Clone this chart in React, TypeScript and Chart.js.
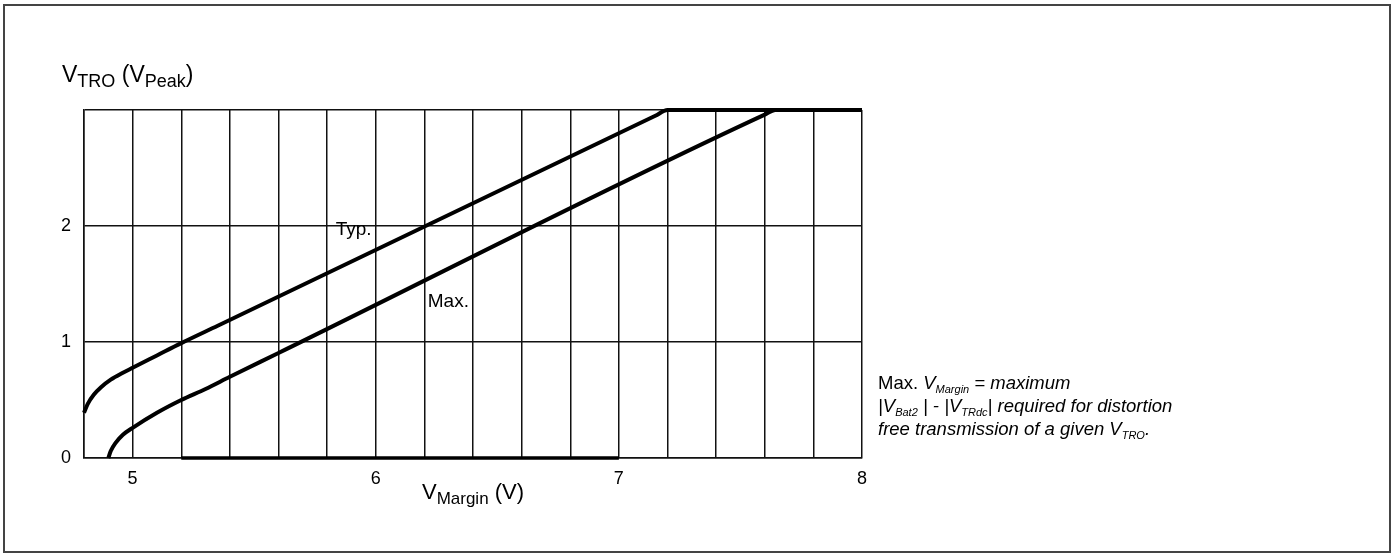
import React, { useEffect, useRef } from "react";
import { Chart, registerables } from "chart.js";

Chart.register(...registerables);

// ---- data ----
const typX = [4.8, 4.815, 4.84, 4.87, 4.91, 4.96, 5.0, 5.1, 5.2, 5.35, 7.15, 7.2, 8.0];
const typY = [0.39, 0.465, 0.545, 0.61, 0.675, 0.735, 0.778, 0.884, 0.99, 1.14, 2.95, 3.0, 3.0];

const maxX = [4.9, 4.91, 4.93, 4.96, 5.0, 5.1, 5.2, 5.3, 5.4, 5.6, 7.6, 7.644, 8.0];
const maxY = [0.0, 0.06, 0.13, 0.2, 0.26, 0.39, 0.5, 0.595, 0.7, 0.905, 2.96, 3.0, 3.0];

const baseSegX = [5.2, 7.0];
const baseSegY = [0, 0];

const xGridValues = [4.8, 5.0, 5.2, 5.4, 5.6, 5.8, 6.0, 6.2, 6.4, 6.6, 6.8, 7.0, 7.2, 7.4, 7.6, 7.8, 8.0];
const xTickValues = [5, 6, 7, 8];
const xTickLabels = ["5", "6", "7", "8"];
const yGridValues = [0, 1, 2, 3];
const yTickValues = [0, 1, 2];
const yTickLabels = ["0", "1", "2"];

const FONT = '"Liberation Sans", Arial, Helvetica, sans-serif';

type Part = { t: string; sub?: boolean; it?: boolean };

function partFont(p: Part, size: number, subSize: number) {
  return `${p.it ? "italic " : ""}${p.sub ? subSize : size}px ${FONT}`;
}

function drawRich(
  ctx: CanvasRenderingContext2D,
  parts: Part[],
  x: number,
  y: number,
  size: number,
  subSize: number,
  subDy: number,
  align: "left" | "center" = "left"
) {
  ctx.save();
  ctx.textBaseline = "alphabetic";
  ctx.textAlign = "left";
  ctx.fillStyle = "#000";
  let total = 0;
  for (const p of parts) {
    ctx.font = partFont(p, size, subSize);
    total += ctx.measureText(p.t).width;
  }
  let cx = align === "center" ? x - total / 2 : x;
  for (const p of parts) {
    ctx.font = partFont(p, size, subSize);
    ctx.fillText(p.t, cx, p.sub ? y + subDy : y);
    cx += ctx.measureText(p.t).width;
  }
  ctx.restore();
}

const textPlugin = {
  id: "textPlugin",
  beforeDraw(chart: any) {
    const ctx = chart.ctx as CanvasRenderingContext2D;
    ctx.save();
    ctx.fillStyle = "#fff";
    ctx.fillRect(0, 0, chart.width, chart.height);
    ctx.strokeStyle = "#444";
    ctx.lineWidth = 2;
    ctx.strokeRect(4, 5, 1386, 547);
    ctx.restore();
  },
  afterDatasetsDraw(chart: any) {
    const ctx = chart.ctx as CanvasRenderingContext2D;
    const xs = chart.scales.x;
    const ys = chart.scales.y;
    // y axis title
    drawRich(
      ctx,
      [{ t: "V" }, { t: "TRO", sub: true }, { t: " (V" }, { t: "Peak", sub: true }, { t: ")" }],
      62,
      82,
      23,
      18,
      5
    );
    // x axis title
    drawRich(
      ctx,
      [{ t: "V" }, { t: "Margin", sub: true }, { t: " (V)" }],
      (chart.chartArea.left + chart.chartArea.right) / 2,
      499,
      22,
      17,
      5,
      "center"
    );
    // curve labels
    ctx.save();
    ctx.font = `19px ${FONT}`;
    ctx.fillStyle = "#000";
    ctx.textBaseline = "middle";
    ctx.fillText("Typ.", xs.getPixelForValue(5.835), ys.getPixelForValue(1.965));
    ctx.fillText("Max.", xs.getPixelForValue(6.214), ys.getPixelForValue(1.35));
    ctx.restore();
    // annotation
    const ax = 878;
    drawRich(
      ctx,
      [{ t: "Max. " }, { t: "V", it: true }, { t: "Margin", it: true, sub: true }, { t: " = maximum", it: true }],
      ax,
      389,
      18.5,
      11,
      4
    );
    drawRich(
      ctx,
      [
        { t: "|V", it: true },
        { t: "Bat2", it: true, sub: true },
        { t: " | - |V", it: true },
        { t: "TRdc", it: true, sub: true },
        { t: "| required for distortion", it: true },
      ],
      ax,
      412,
      18.5,
      11,
      4
    );
    drawRich(
      ctx,
      [{ t: "free transmission of a given V", it: true }, { t: "TRO", it: true, sub: true }, { t: ".", it: true }],
      ax,
      435,
      18.5,
      11,
      4
    );
  },
};

export default function App() {
  const ref = useRef<HTMLCanvasElement>(null);
  useEffect(() => {
    const canvas = ref.current!;
    const line = (xsArr: number[], ysArr: number[], w: number) => ({
      data: xsArr.map((x, i) => ({ x, y: ysArr[i] })),
      showLine: true,
      borderColor: "#000",
      backgroundColor: "#000",
      borderWidth: w,
      pointRadius: 0,
      pointHoverRadius: 0,
      cubicInterpolationMode: "monotone" as const,
      clip: false as any,
      borderCapStyle: "butt" as const,
    });
    const chart = new Chart(canvas, {
      type: "scatter",
      data: {
        datasets: [line(typX, typY, 4), line(maxX, maxY, 4), line(baseSegX, baseSegY, 3.5)],
      },
      options: {
        responsive: false,
        animation: false,
        events: [],
        layout: { padding: { left: 60, top: 110, right: 532, bottom: 59 } },
        plugins: { legend: { display: false }, tooltip: { enabled: false } },
        scales: {
          x: {
            type: "linear",
            min: 4.8,
            max: 8,
            afterBuildTicks: (s: any) => {
              s.ticks = xGridValues.map((v) => ({ value: v }));
            },
            afterFit: (s: any) => {
              s.height = 40;
            },
            ticks: {
              autoSkip: false,
              maxRotation: 0,
              padding: 10,
              color: "#000",
              font: { family: FONT, size: 18 },
              callback: (v: any) => {
                const i = xTickValues.findIndex((t) => Math.abs(t - Number(v)) < 1e-6);
                return i >= 0 ? xTickLabels[i] : "";
              },
            },
            grid: { color: "#111", lineWidth: 1.5, drawTicks: false },
            border: { color: "#111", width: 1.5 },
          },
          y: {
            type: "linear",
            min: 0,
            max: 3,
            afterBuildTicks: (s: any) => {
              s.ticks = yGridValues.map((v) => ({ value: v }));
            },
            afterFit: (s: any) => {
              s.width = 24;
            },
            ticks: {
              padding: 13,
              color: "#000",
              font: { family: FONT, size: 18 },
              callback: (v: any) => {
                const i = yTickValues.findIndex((t) => Math.abs(t - Number(v)) < 1e-6);
                return i >= 0 ? yTickLabels[i] : "";
              },
            },
            grid: { color: "#111", lineWidth: 1.5, drawTicks: false },
            border: { color: "#111", width: 1.5 },
          },
        },
      },
      plugins: [textPlugin],
    });
    return () => chart.destroy();
  }, []);
  return (
    <div style={{ position: "fixed", left: 0, top: 0, width: 1394, height: 557, background: "#fff" }}>
      <canvas ref={ref} width={1394} height={557} style={{ display: "block", width: 1394, height: 557 }} />
    </div>
  );
}
